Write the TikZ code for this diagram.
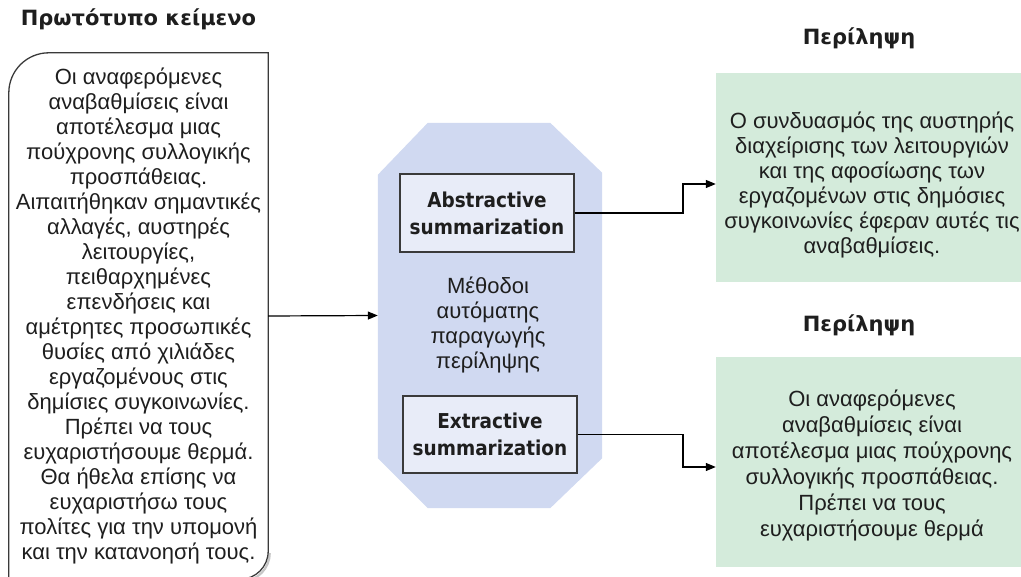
\documentclass[tikz,border=0pt]{standalone}
\usepackage{fontspec}
\setmainfont{Liberation Sans}
\newfontfamily\headfont{DejaVu Sans Bold}
\newfontfamily\labelfont[FakeStretch=0.9]{DejaVu Sans Bold}
\usetikzlibrary{arrows.meta}
\definecolor{ink}{HTML}{1E1E1E}
\definecolor{edge}{HTML}{3A3A3A}
\definecolor{methodfill}{HTML}{D0D9F1}
\definecolor{boxfill}{HTML}{E8ECF8}
\definecolor{summaryfill}{HTML}{D4EBDB}

\begin{document}
\begin{tikzpicture}[x=1pt,y=-1pt,
  body/.style={text=ink,font=\fontsize{22}{25}\selectfont,align=center,inner sep=0pt},
  heading/.style={text=ink,font=\headfont\fontsize{21}{26}\selectfont,inner sep=0pt,anchor=base},
  method/.style={draw=edge,line width=1.5pt,fill=boxfill,minimum width=174pt,minimum height=78pt,
    inner sep=0pt,text=ink,font=\labelfont\fontsize{20.5}{27}\selectfont,align=center},
  summary/.style={fill=summaryfill,minimum width=308pt,inner sep=0pt},
  link/.style={line width=1.2pt,draw=black},
  arrow/.style={link,-{Triangle[length=10pt,width=8pt]}}
]
\useasboundingbox (0,0) rectangle (1021,577);

% source text panel
\node[heading] (t0) at (138.5,26) {Πρωτότυπο κείμενο};
\node[body,minimum width=259pt,minimum height=526pt] (src) at (138.5,316)
  {Οι αναφερόμενες\\αναβαθμίσεις είναι\\αποτέλεσμα μιας\\πούχρονης συλλογικής\\προσπάθειας.\\
   Αιπαιτήθηκαν σημαντικές\\αλλαγές, αυστηρές\\λειτουργίες,\\πειθαρχημένες\\επενδήσεις και\\
   αμέτρητες προσωπικές\\θυσίες από χιλιάδες\\εργαζομένους στις\\δημίσιες συγκοινωνίες.\\
   Πρέπει να τους\\ευχαριστήσουμε θερμά.\\Θα ήθελα επίσης να\\ευχαριστήσω τους\\
   πολίτες για την υπομονή\\και την κατανοησή τους.};
\draw[gray!45,line width=2.2pt] ([xshift=1.5pt,yshift=26pt]src.south east)
  arc[start angle=0,end angle=-90,radius=28pt];
\draw[edge,line width=1.3pt] (src.south west) -- ([yshift=-40pt]src.north west)
  arc[start angle=180,end angle=90,radius=40pt] -- (src.north east)
  -- ([yshift=28pt]src.south east) arc[start angle=0,end angle=-90,radius=28pt] -- cycle;

% methods panel
\node[minimum width=224pt,minimum height=385pt,inner sep=0pt] (oct) at (490,315.5) {};
\fill[methodfill] ([xshift=50pt]oct.north west) -- ([xshift=-52pt]oct.north east)
  -- ([yshift=-50pt]oct.north east) -- ([yshift=50pt]oct.south east)
  -- ([xshift=-52pt]oct.south east) -- ([xshift=50pt]oct.south west)
  -- ([yshift=50pt]oct.south west) -- ([yshift=-52pt]oct.north west) -- cycle;
\node[body] (mtext) at (488,325) {Μέθοδοι\\αυτόματης\\παραγωγής\\περίληψης};
\node[method] (abs) at (487,213) {Abstractive\\summarization};
\node[method,minimum height=77pt] (ext) at (490,434.5) {Extractive\\summarization};

% summaries
\node[heading] (t1) at (859,45) {Περίληψη};
\node[summary,minimum height=209pt] (g1) at (870,177.5) {};
\node[body] (g1text) at (872,184.5)
  {Ο συνδυασμός της αυστηρής\\διαχείρισης των λειτουργιών\\και της αφοσίωσης των\\
   εργαζομένων στις δημόσιες\\συγκοινωνίες έφεραν αυτές τις\\αναβαθμίσεις.};
\node[heading] (t2) at (859,332) {Περίληψη};
\node[summary,minimum height=210pt] (g2) at (870,462) {};
\node[body,font=\fontsize{22}{26}\selectfont] (g2text) at (872,465)
  {Οι αναφερόμενες\\αναβαθμίσεις είναι\\αποτέλεσμα μιας πούχρονης\\
   συλλογικής προσπάθειας.\\Πρέπει να τους\\ευχαριστήσουμε θερμά};

% connectors
\coordinate (j1) at (683,184);
\coordinate (j2) at (683,467);
\draw[arrow] (src.east) -- (oct.west);
\draw[arrow] (abs.east) -| (j1) -- (j1 -| g1.west);
\draw[arrow] (ext.east) -| (j2) -- (j2 -| g2.west);
\end{tikzpicture}
\end{document}
